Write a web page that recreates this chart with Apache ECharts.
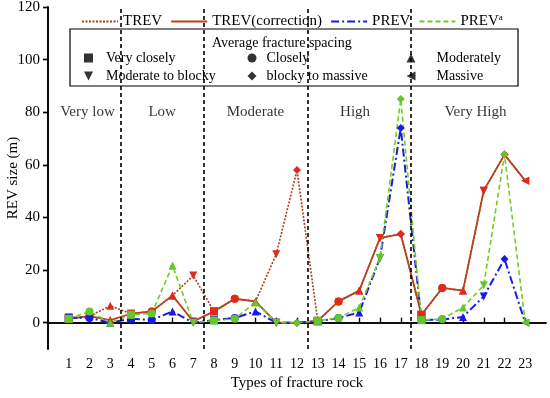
<!DOCTYPE html>
<html><head><meta charset="utf-8">
<script src="https://cdn.jsdelivr.net/npm/echarts@6/dist/echarts.min.js"></script>
<style>html,body{margin:0;padding:0;background:#fff}#c{width:550px;height:398px}</style>
</head><body><div id="c"></div>
<script>
const types = [1,2,3,4,5,6,7,8,9,10,11,12,13,14,15,16,17,18,19,20,21,22,23];
const spacing = ['VC','C','M','VC','C','M','MB','VC','C','M','MB','BM','VC','C','M','MB','BM','VC','C','M','MB','BM','MA'];
const trev     = [1.5,2.5,6.4,3.4,4.3,10.3,17.9,4.3,9.1,8.1,26,58,0.7,8.1,12.2,32.2,33.7,3.0,13.2,12.2,50.2,63.9,54];
const trevCorr = [1.5,2.5,1.0,3.4,4.3,10.3,0.5,4.3,9.1,8.1,0,0,0.7,8.1,12.2,32.2,33.7,3.0,13.2,12.2,50.2,63.9,54];
const prev     = [2.0,1.8,0,1.5,1.0,4.3,0,1.0,1.8,4.3,0,0,0.5,1.8,3.9,24.6,74,1.0,1.2,2.2,10,24.2,0];
const prevA    = [1.5,4.3,0,3.0,3.5,21.7,0,0.8,1.5,7.7,0,0,0.7,1.8,5.8,24.6,85,1.0,1.4,5.8,14.2,63.9,0];
const groupNames = ['Very low','Low','Moderate','High','Very High'];
const groupCenters = [1.9,5.5,10.0,14.8,20.6];
const groupLabelY = 80;
const groupBounds = [3.5,7.5,12.5,17.5];
const spacingNames = ['Very closely','Moderate to blocky','Closely','blocky to massive','Moderately','Massive'];
const spacingKeys  = ['VC','MB','C','BM','M','MA'];
const yTicks = [0,20,40,60,80,100,120];

const shapeOf = {VC:'rect', C:'circle', M:'triangle', MB:'path://M0,0L2,0L1,2Z', BM:'diamond', MA:'path://M2,0L2,2L0,1Z'};
function pts(vals){return types.map((x,i)=>({value:[x,vals[i]],symbol:shapeOf[spacing[i]]}));}
const serif = 'Liberation Serif, Times New Roman, serif';

function lineSeries(name, vals, lineColor, markColor, type, width){
  return {name, type:'line', data:pts(vals), symbolSize:8, lineStyle:{color:lineColor,width:width,type:type},
    itemStyle:{color:markColor}, z:2};
}
const series = [
  lineSeries('TREV', trev, '#a8401c', '#e02a1c', [2,1.5], 1.6),
  lineSeries('TREV(correction)', trevCorr, '#b4441e', '#e02a1c', 'solid', 1.8),
  lineSeries('PREV', prev, '#1a1ae0', '#1a1ae6', [8,3,2,3], 2),
  lineSeries('PREVa', prevA, '#74cc22', '#62c82a', [5,3], 1.6),
  {type:'scatter', name:'groups', data:groupNames.map((n,i)=>({value:[groupCenters[i],groupLabelY],name:n})),
   symbolSize:0, silent:true, z:1,
   label:{show:true, position:'inside', formatter:p=>p.name, fontFamily:serif, fontSize:15, color:'#000'},
   markLine:{silent:true, symbol:'none', label:{show:false}, lineStyle:{color:'#000',width:1.6,type:[4,3]},
     data:groupBounds.map(v=>({xAxis:v}))}}
];
spacingKeys.forEach((k,i)=>{
  series.push({type:'scatter', name:spacingNames[i], data:[], symbol:shapeOf[k], symbolSize:9, itemStyle:{color:'#000'}});
});
function spacingLegend(names, left, gap){
  return {orient:'vertical', left:left, top:51, padding:0, itemWidth:9, itemHeight:9, itemGap:4,
    data:names.map(n=>({name:n, icon:shapeOf[spacingKeys[spacingNames.indexOf(n)]]})),
    textStyle:{fontFamily:serif, fontSize:14, color:'#000', padding:[0,0,0,gap]}, selectedMode:false, z:10};
}

const chart = echarts.init(document.getElementById('c'));
chart.setOption({
  animation:false,
  grid:{left:48, right:4, top:7, bottom:49, outerBoundsMode:'none', containLabel:false},
  title:{text:'Average fracture spacing', left:207, top:31, textStyle:{fontFamily:serif, fontSize:14, fontWeight:'normal', color:'#000'}, z:10},
  legend:[
    {data:['TREV','TREV(correction)','PREV','PREVa'], left:81, top:13, padding:0, itemWidth:36, itemHeight:14, itemGap:8,
     itemStyle:{opacity:0}, selectedMode:false,
     formatter:n=> n==='PREVa' ? 'PREV{sup|a}' : n,
     textStyle:{fontFamily:serif, fontSize:15, color:'#000', rich:{sup:{fontFamily:serif, fontSize:9, verticalAlign:'top', padding:[0,0,8,0]}}}},
    spacingLegend(['Very closely','Moderate to blocky'], 84, 8),
    spacingLegend(['Closely','blocky to massive'], 247.5, 5),
    spacingLegend(['Moderately','Massive'], 406.5, 16)
  ],
  graphic:[{type:'rect', shape:{x:70, y:29, width:448, height:57}, style:{fill:'#fff', stroke:'#000', lineWidth:1.2}, z:5}],
  xAxis:[
    {type:'value', min:0, max:24, name:'Types of fracture rock', nameLocation:'middle', nameGap:27,
     nameTextStyle:{fontFamily:serif, fontSize:15, color:'#000'},
     axisLine:{lineStyle:{color:'#000', width:1.6}},
     axisTick:{inside:true, length:5, customValues:types, lineStyle:{color:'#000', width:1.4}},
     axisLabel:{customValues:types, fontFamily:serif, fontSize:14, color:'#000', margin:8},
     splitLine:{show:false}},
    {type:'value', min:0, max:24, position:'top', axisLine:{show:true, lineStyle:{color:'#000', width:1.6}},
     axisTick:{show:false}, axisLabel:{show:false}, splitLine:{show:false}}
  ],
  yAxis:[
    {type:'value', min:-10, max:120, name:'REV size (m)', nameLocation:'middle', nameGap:27, nameMoveOverlap:false,
     nameTextStyle:{fontFamily:serif, fontSize:15, color:'#000'},
     axisLine:{show:true, lineStyle:{color:'#000', width:1.6}},
     axisTick:{show:true, length:5, customValues:yTicks, lineStyle:{color:'#000', width:1.4}},
     axisLabel:{customValues:yTicks, fontFamily:serif, fontSize:15, color:'#000', margin:8},
     splitLine:{show:false}},
    {type:'value', min:-10, max:120, position:'right',
     axisLine:{show:true, lineStyle:{color:'#000', width:1.6}},
     axisTick:{show:true, inside:true, length:5, customValues:yTicks, lineStyle:{color:'#000', width:1.4}},
     axisLabel:{show:false}, splitLine:{show:false}}
  ],
  series:series
});
</script></body></html>
